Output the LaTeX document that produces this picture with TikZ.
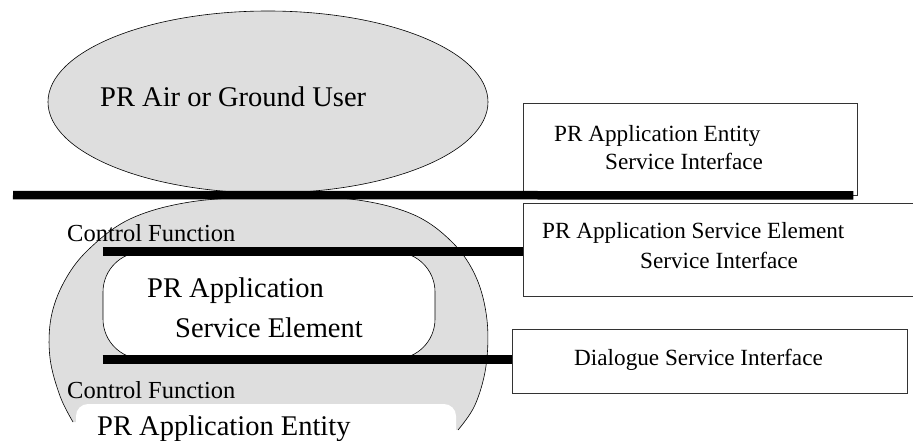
\documentclass[tikz,border=0pt]{standalone}
\usepackage{fontspec}
\setmainfont{Liberation Serif}
\usetikzlibrary{shapes.geometric,positioning}

% outline of the application entity (open at the bottom)
\def\aeoutline{(73,422) (60,396) (50,358) (51,318) (64,282) (88,250) (130,219)
  (190,202) (268,197) (350,199) (412,214) (452,242) (476,277) (487,320)
  (486,366) (475,405) (458,430)}

\begin{document}
\begin{tikzpicture}[
  x=1pt,
  y=-1pt,
  area/.style={
    fill=black!13,
    draw=black,
    line width=0.6pt,
    inner sep=0pt
  },
  iface/.style={
    draw=black!80,
    line width=0.8pt,
    fill=white,
    inner sep=0pt
  },
  bigtext/.style={anchor=base west,inner sep=0pt,font=\fontsize{28.5}{30}\selectfont},
  cftext/.style={anchor=base west,inner sep=0pt,font=\fontsize{24.5}{26}\selectfont},
  boxtext/.style={anchor=base west,inner sep=0pt,font=\fontsize{23.2}{25}\selectfont},
  bar/.style={line width=8.5pt}
]
\useasboundingbox (0,0) rectangle (913,441);

% user on top
\node[area,ellipse,minimum width=440pt,minimum height=182pt] (user) at (268,102) {};

% application entity, bottom cut away
\fill[black!13] plot[smooth,tension=0.6] coordinates {\aeoutline} -- cycle;
\draw[line width=0.6pt] plot[smooth,tension=0.6] coordinates {\aeoutline};
\fill[white,rounded corners=12pt] (76,404) rectangle (456,460);

% service element inside
\node[draw=black,line width=0.6pt,fill=white,rounded corners=40pt,
  minimum width=332pt,minimum height=107pt,inner sep=0pt] (ase) at (269,305.5) {};

% interface boxes
\node[iface,minimum width=334pt,minimum height=92pt] (aesi) at (690,149) {};
\node[iface,minimum width=397pt,minimum height=93pt] (asesi) at (721.5,249.5) {};
\node[iface,minimum width=395pt,minimum height=64pt] (dsi) at (709.5,361) {};

% interfaces as thick bars
\coordinate (barstart) at (13,195);
\draw[bar] (barstart) -- ([xshift=-4pt]aesi.south east);
\draw[bar] (ase.north west) -- (asesi.west |- ase.north);
\draw[bar] (ase.south west) -- (dsi.west |- ase.south);

% texts
\node[bigtext] (usertext) at (100,107) {PR Air or Ground User};
\node[cftext] (cftop) at (67,241) {Control Function};
\node[bigtext] (asetext1) at (147,297) {PR Application};
\node[bigtext] (asetext2) at (175,337) {Service Element};
\node[cftext] (cfbottom) at (67,398) {Control Function};
\node[bigtext] (aetext) at (97,435) {PR Application Entity};

\node[boxtext] (aesi1) at (554,142) {PR Application Entity};
\node[boxtext] (aesi2) at (605,169) {Service Interface};
\node[boxtext] (asesi1) at (542,238) {PR Application Service Element};
\node[boxtext] (asesi2) at (640,268) {Service Interface};
\node[boxtext] (dsitext) at (574,365) {Dialogue Service Interface};
\end{tikzpicture}
\end{document}
